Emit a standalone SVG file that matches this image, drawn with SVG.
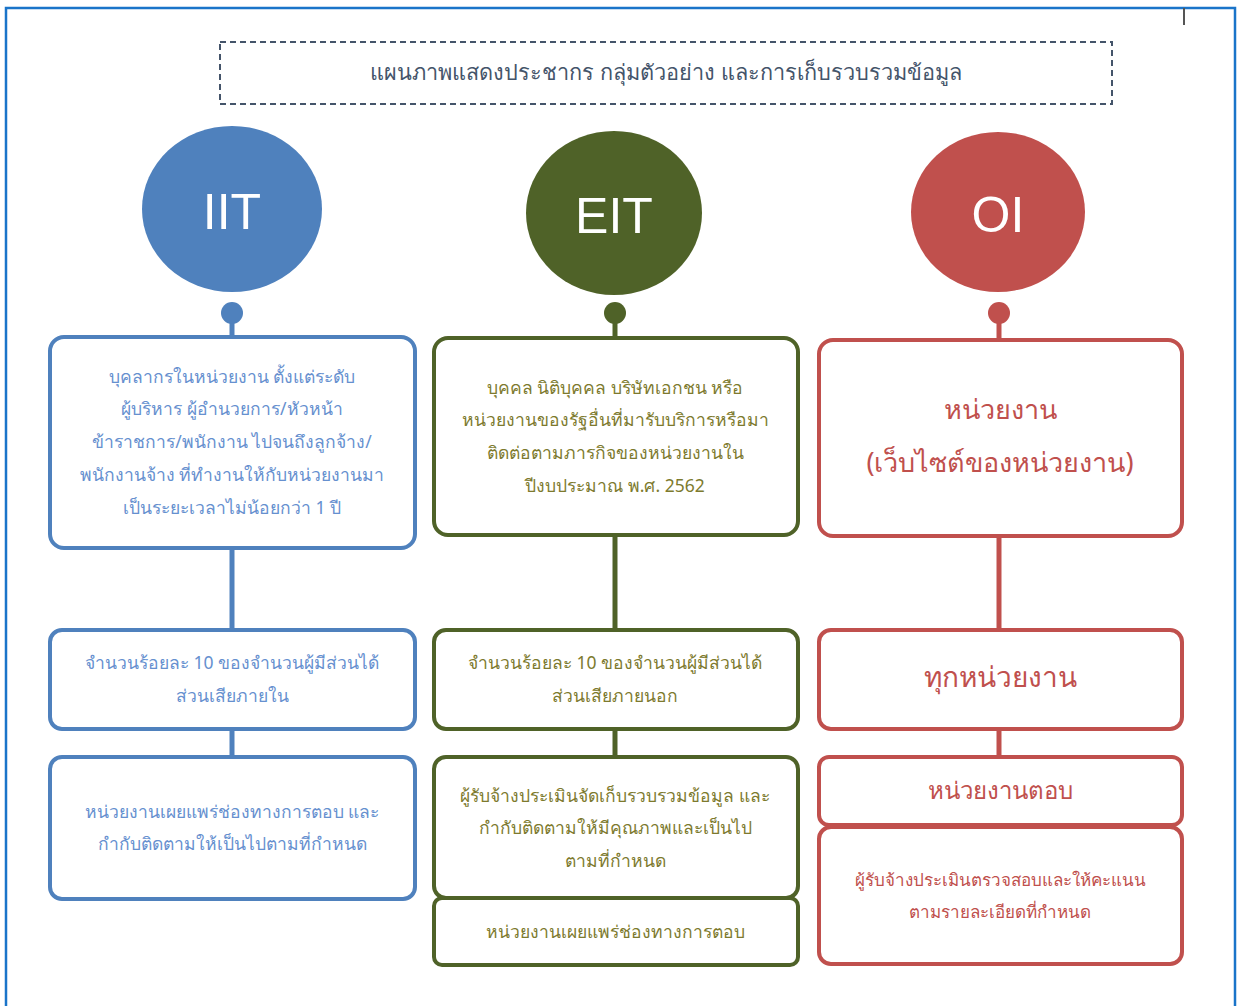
<svg xmlns="http://www.w3.org/2000/svg" width="1237" height="1006" viewBox="0 0 1237 1006">
<style>
text{font-family:"Noto Sans","DejaVu Sans","Liberation Sans",sans-serif;text-anchor:middle;dominant-baseline:central}
.b{fill:#fff;stroke:#4f81bd;stroke-width:4}
.g{fill:#fff;stroke:#4f6228;stroke-width:4}
.r{fill:#fff;stroke:#c0504d;stroke-width:4}
.tb{fill:#6690cf;font-size:17.5px}
.tg{fill:#7d7a2e;font-size:17.5px}
.tr{fill:#c0504d;font-size:17px}
.cl{fill:#fff;font-family:"Liberation Sans",Arial,sans-serif;font-size:50px}
.lb{stroke:#4f81bd;stroke-width:5}
.lg{stroke:#4f6228;stroke-width:5}
.lr{stroke:#c0504d;stroke-width:5}
</style>
<rect width="1237" height="1006" fill="#fff"/>
<g id="frame" fill="none" stroke="#1a74c9" stroke-width="2.5">
<path d="M6,1006 V8 H1235 V1006"/>
<line x1="1184" y1="8" x2="1184" y2="25" stroke="#555" stroke-width="2"/>
</g>
<g id="title">
<rect x="220" y="42" width="892" height="62" fill="none" stroke="#44546a" stroke-width="2" stroke-dasharray="6,4"/>
<text x="666" y="71" fill="#44546a" style="font-size:21.7px">แผนภาพแสดงประชากร กลุ่มตัวอย่าง และการเก็บรวบรวมข้อมูล</text>
</g>
<g id="connectors">
<line class="lb" x1="232" y1="313" x2="232" y2="337"/>
<line class="lb" x1="232" y1="548" x2="232" y2="630"/>
<line class="lb" x1="232" y1="729" x2="232" y2="757"/>
<line class="lg" x1="615" y1="313" x2="615" y2="338"/>
<line class="lg" x1="615" y1="535" x2="615" y2="630"/>
<line class="lg" x1="615" y1="729" x2="615" y2="757"/>
<line class="lr" x1="999" y1="313" x2="999" y2="340"/>
<line class="lr" x1="999" y1="536" x2="999" y2="630"/>
<line class="lr" x1="999" y1="729" x2="999" y2="757"/>
<circle cx="232" cy="313" r="11" fill="#4f81bd"/>
<circle cx="615" cy="313" r="11" fill="#4f6228"/>
<circle cx="999" cy="313" r="11" fill="#c0504d"/>
</g>
<g id="iit">
<ellipse cx="232" cy="209" rx="90" ry="83" fill="#4f81bd"/>
<text class="cl" x="232" y="212">IIT</text>
</g>
<g id="eit">
<ellipse cx="614" cy="213" rx="88" ry="82" fill="#4f6228"/>
<text class="cl" x="614" y="216">EIT</text>
</g>
<g id="oi">
<ellipse cx="998" cy="212" rx="87" ry="80" fill="#c0504d"/>
<text class="cl" x="998" y="215">OI</text>
</g>
<g id="iit-pop">
<rect class="b" x="50" y="337" width="365" height="211" rx="14"/>
<text class="tb" x="232" y="376">บุคลากรในหน่วยงาน ตั้งแต่ระดับ</text>
<text class="tb" x="232" y="408">ผู้บริหาร ผู้อำนวยการ/หัวหน้า</text>
<text class="tb" x="232" y="441">ข้าราชการ/พนักงาน ไปจนถึงลูกจ้าง/</text>
<text class="tb" x="232" y="474">พนักงานจ้าง ที่ทำงานให้กับหน่วยงานมา</text>
<text class="tb" x="232" y="507">เป็นระยะเวลาไม่น้อยกว่า 1 ปี</text>
</g>
<g id="iit-sample">
<rect class="b" x="50" y="630" width="365" height="99" rx="12"/>
<text class="tb" x="232" y="662">จำนวนร้อยละ 10 ของจำนวนผู้มีส่วนได้</text>
<text class="tb" x="232" y="695">ส่วนเสียภายใน</text>
</g>
<g id="iit-collect">
<rect class="b" x="50" y="757" width="365" height="142" rx="12"/>
<text class="tb" x="232" y="811">หน่วยงานเผยแพร่ช่องทางการตอบ และ</text>
<text class="tb" x="232" y="843">กำกับติดตามให้เป็นไปตามที่กำหนด</text>
</g>
<g id="eit-pop">
<rect class="g" x="434" y="338" width="364" height="197" rx="14"/>
<text class="tg" x="615" y="387">บุคคล นิติบุคคล บริษัทเอกชน หรือ</text>
<text class="tg" x="615" y="419">หน่วยงานของรัฐอื่นที่มารับบริการหรือมา</text>
<text class="tg" x="615" y="452">ติดต่อตามภารกิจของหน่วยงานใน</text>
<text class="tg" x="615" y="485">ปีงบประมาณ พ.ศ. 2562</text>
</g>
<g id="eit-sample">
<rect class="g" x="434" y="630" width="364" height="99" rx="12"/>
<text class="tg" x="615" y="662">จำนวนร้อยละ 10 ของจำนวนผู้มีส่วนได้</text>
<text class="tg" x="615" y="695">ส่วนเสียภายนอก</text>
</g>
<g id="eit-collect">
<rect class="g" x="434" y="757" width="364" height="141" rx="12"/>
<text class="tg" x="615" y="795">ผู้รับจ้างประเมินจัดเก็บรวบรวมข้อมูล และ</text>
<text class="tg" x="615" y="827">กำกับติดตามให้มีคุณภาพและเป็นไป</text>
<text class="tg" x="615" y="860">ตามที่กำหนด</text>
</g>
<g id="eit-publish">
<rect class="g" x="434" y="898" width="364" height="67" rx="8"/>
<text class="tg" x="615" y="931">หน่วยงานเผยแพร่ช่องทางการตอบ</text>
</g>
<g id="oi-pop">
<rect class="r" x="819" y="340" width="363" height="196" rx="14"/>
<text class="tr" x="1000" y="408" style="font-size:27px">หน่วยงาน</text>
<text class="tr" x="1000" y="461" style="font-size:27px">(เว็บไซต์ของหน่วยงาน)</text>
</g>
<g id="oi-sample">
<rect class="r" x="819" y="630" width="363" height="99" rx="12"/>
<text class="tr" x="1000" y="676" style="font-size:28px">ทุกหน่วยงาน</text>
</g>
<g id="oi-respond">
<rect class="r" x="819" y="757" width="363" height="68" rx="10"/>
<text class="tr" x="1000" y="789" style="font-size:24px">หน่วยงานตอบ</text>
</g>
<g id="oi-assess">
<rect class="r" x="819" y="827" width="363" height="137" rx="12"/>
<text class="tr" x="1000" y="879">ผู้รับจ้างประเมินตรวจสอบและให้คะแนน</text>
<text class="tr" x="1000" y="911">ตามรายละเอียดที่กำหนด</text>
</g>
</svg>
